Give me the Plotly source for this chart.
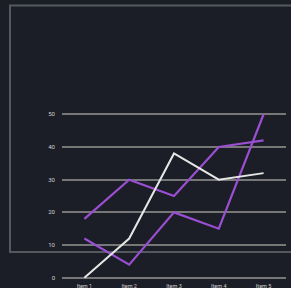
import plotly.graph_objects as go

categories = ["Item 1", "Item 2", "Item 3", "Item 4", "Item 5"]
series_white = [0, 12, 38, 30, 32]
series_purple_a = [18, 30, 25, 40, 42]
series_purple_b = [12, 4, 20, 15, 50]
y_ticks = [0, 10, 20, 30, 40, 50]

BG = "#1b1e26"
PURPLE = "#9a4fd2"
WHITE = "#e6e6e6"

Y0, Y1 = -1.0, 51.0
top_px, bot_px = 114 - 3.274, 277.7 + 3.274

fig = go.Figure()
fig.add_trace(go.Scatter(x=categories, y=series_purple_a, mode="lines",
                         line=dict(color=PURPLE, width=2.2), cliponaxis=False))
fig.add_trace(go.Scatter(x=categories, y=series_purple_b, mode="lines",
                         line=dict(color=PURPLE, width=2.2), cliponaxis=False))
fig.add_trace(go.Scatter(x=categories, y=series_white, mode="lines",
                         line=dict(color=WHITE, width=2), cliponaxis=False))

ph = bot_px - top_px
def py(px):
    return (bot_px - px) / ph
def px_x(px):
    return (px - 62) / 224

fig.add_shape(type="rect", xref="paper", yref="paper",
              x0=px_x(10), x1=px_x(300), y0=py(252), y1=py(5),
              line=dict(color="#55585f", width=2), fillcolor="rgba(0,0,0,0)",
              layer="below")

fig.update_layout(
    width=291, height=288,
    margin=dict(l=62, r=5, t=top_px, b=288 - bot_px, autoexpand=False),
    paper_bgcolor=BG, plot_bgcolor=BG,
    showlegend=False,
    font=dict(family="Roboto", size=6, color="#d0d0d0"),
    xaxis=dict(range=[-0.5, 4.5], showgrid=False, zeroline=False,
               showline=False, ticks="", tickfont=dict(size=5.5),
               automargin=False, ticklabelstandoff=0),
    yaxis=dict(range=[Y0, Y1], tickvals=y_ticks, showgrid=True,
               gridcolor="#777777", gridwidth=2, zeroline=False,
               showline=False, ticks="", ticklabelstandoff=6,
               automargin=False, tickfont=dict(size=6)),
)

fig.write_html("out.html", config={"displayModeBar": False},
               post_script="document.body.style.margin='0';document.body.style.background='%s';" % BG)
